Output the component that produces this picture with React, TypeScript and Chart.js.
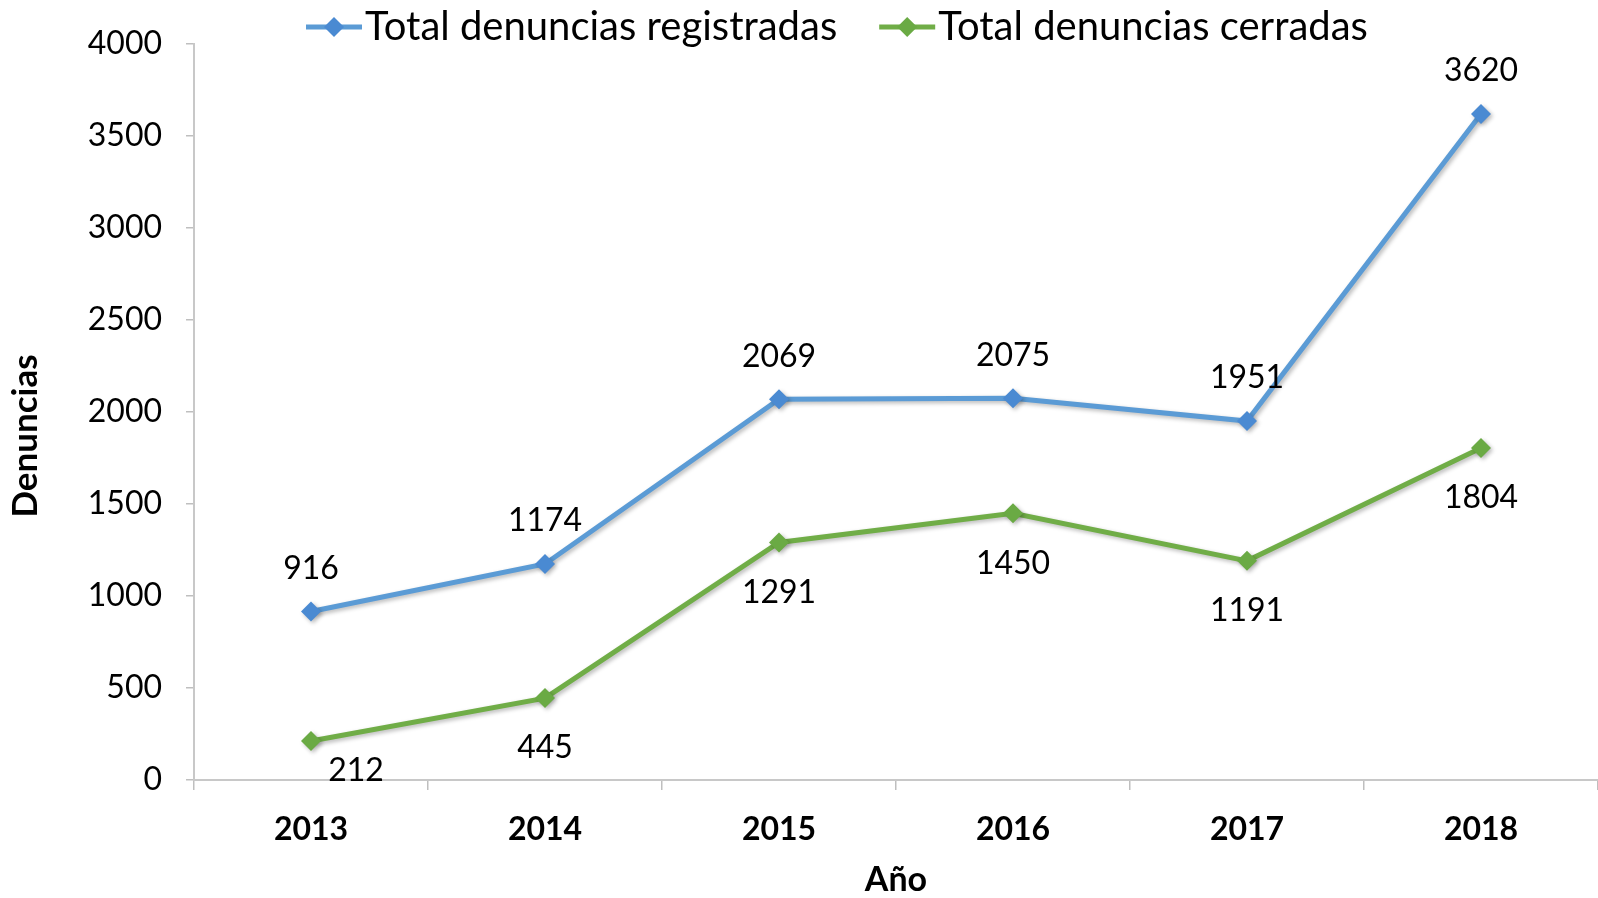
import React, { useEffect, useRef } from 'react';
import { Chart, registerables } from 'chart.js';

Chart.register(...registerables);

const years = ['2013', '2014', '2015', '2016', '2017', '2018'];
const registradas = [916, 1174, 2069, 2075, 1951, 3620];
const cerradas = [212, 445, 1291, 1450, 1191, 1804];
const seriesNames = ['Total denuncias registradas', 'Total denuncias cerradas'];
const yMin = 0;
const yMax = 4000;
const yStep = 500;
const xTitle = 'Año';
const yTitle = 'Denuncias';

const FONT = 'Lato, "Open Sans", sans-serif';
const LINE_COLORS = ['#5B9BD5', '#70AD47'];
const MARKER_COLORS = ['#4A8AD2', '#6AAA44'];
const LABEL_SIDE = ['above', 'below'];

const labelPlugin = {
  id: 'pointLabels',
  afterDatasetsDraw(chart: any) {
    const ctx = chart.ctx;
    const area = chart.chartArea;
    ctx.save();
    ctx.font = `32px ${FONT}`;
    ctx.fillStyle = '#000000';
    ctx.textAlign = 'center';
    ctx.textBaseline = 'middle';
    chart.data.datasets.forEach((ds: any, di: number) => {
      const meta = chart.getDatasetMeta(di);
      const above = LABEL_SIDE[di] === 'above';
      meta.data.forEach((pt: any, i: number) => {
        const v = ds.data[i];
        let x = pt.x;
        let y = above ? pt.y - 43 : pt.y + 50;
        if (!above && y + 12 > area.bottom) {
          y = pt.y + 30;
          x = pt.x + 45;
        }
        ctx.fillText(String(v), x, y);
      });
    });
    ctx.restore();
  },
};

const shadowPlugin = {
  id: 'lineShadow',
  beforeDatasetDraw(chart: any) {
    const ctx = chart.ctx;
    ctx.save();
    ctx.shadowColor = 'rgba(0,0,0,0.28)';
    ctx.shadowBlur = 4;
    ctx.shadowOffsetX = 2;
    ctx.shadowOffsetY = 2;
  },
  afterDatasetDraw(chart: any) {
    chart.ctx.restore();
  },
};

const legendPlugin = {
  id: 'customLegend',
  afterDraw(chart: any) {
    const ctx = chart.ctx;
    ctx.save();
    ctx.font = `40px ${FONT}`;
    ctx.textBaseline = 'middle';
    ctx.textAlign = 'left';
    let x = 306;
    const y = 27;
    seriesNames.forEach((name, i) => {
      ctx.strokeStyle = LINE_COLORS[i];
      ctx.lineWidth = 5;
      ctx.beginPath();
      ctx.moveTo(x, y);
      ctx.lineTo(x + 56, y);
      ctx.stroke();
      const cx = x + 28;
      const r = 10;
      ctx.fillStyle = MARKER_COLORS[i];
      ctx.beginPath();
      ctx.moveTo(cx, y - r);
      ctx.lineTo(cx + r, y);
      ctx.lineTo(cx, y + r);
      ctx.lineTo(cx - r, y);
      ctx.closePath();
      ctx.fill();
      ctx.fillStyle = '#000000';
      ctx.fillText(name, x + 59, y);
      const w = ctx.measureText(name).width;
      x += 59 + w + 42;
    });
    ctx.restore();
  },
};

const yTitlePlugin = {
  id: 'yTitle',
  afterDraw(chart: any) {
    const ctx = chart.ctx;
    const area = chart.chartArea;
    ctx.save();
    ctx.font = `bold 35px ${FONT}`;
    ctx.fillStyle = '#000000';
    ctx.textAlign = 'center';
    ctx.textBaseline = 'middle';
    ctx.translate(26, (area.top + area.bottom) / 2 + 24);
    ctx.rotate(-Math.PI / 2);
    ctx.fillText(yTitle, 0, 0);
    ctx.restore();
  },
};

export default function App() {
  const ref = useRef<HTMLCanvasElement | null>(null);
  useEffect(() => {
    if (!ref.current) return;
    const chart = new Chart(ref.current, {
      type: 'line',
      data: {
        labels: years,
        datasets: [
          {
            label: seriesNames[0],
            data: registradas,
            borderColor: LINE_COLORS[0],
            backgroundColor: MARKER_COLORS[0],
            pointBackgroundColor: MARKER_COLORS[0],
            pointBorderColor: MARKER_COLORS[0],
            borderWidth: 5,
            pointStyle: 'rectRot',
            pointRadius: 10,
            pointBorderWidth: 0,
            tension: 0,
          },
          {
            label: seriesNames[1],
            data: cerradas,
            borderColor: LINE_COLORS[1],
            backgroundColor: MARKER_COLORS[1],
            pointBackgroundColor: MARKER_COLORS[1],
            pointBorderColor: MARKER_COLORS[1],
            borderWidth: 5,
            pointStyle: 'rectRot',
            pointRadius: 10,
            pointBorderWidth: 0,
            tension: 0,
          },
        ],
      },
      options: {
        responsive: false,
        animation: false,
        devicePixelRatio: 1,
        layout: { autoPadding: false, padding: { top: 44, left: 0, right: 0, bottom: 0 } },
        plugins: {
          legend: { display: false },
          tooltip: { enabled: false },
        },
        scales: {
          x: {
            type: 'category',
            offset: true,
            afterFit: (s: any) => { s.height = 118; },
            grid: {
              offset: true,
              drawOnChartArea: false,
              drawTicks: true,
              tickLength: 10,
              color: '#BFBFBF',
              lineWidth: 1.5,
            },
            border: { display: true, color: '#C8C8C8', width: 2 },
            ticks: {
              font: { family: FONT, size: 32, weight: 'bold' },
              color: '#000000',
              padding: 20,
              maxRotation: 0,
            },
            title: {
              display: true,
              text: xTitle,
              font: { family: FONT, size: 34, weight: 'bold' },
              color: '#000000',
              padding: { top: 0, bottom: -2 },
            },
          },
          y: {
            min: yMin,
            max: yMax,
            afterFit: (s: any) => { s.width = 194; },
            grid: {
              drawOnChartArea: false,
              drawTicks: true,
              tickLength: 8,
              color: '#BFBFBF',
              lineWidth: 1.5,
            },
            border: { display: true, color: '#C8C8C8', width: 2 },
            ticks: {
              stepSize: yStep,
              font: { family: FONT, size: 32 },
              color: '#000000',
              padding: 24,
              callback: (v: any) => String(v),
            },
            title: { display: false },
          },
        },
      },
      plugins: [shadowPlugin, labelPlugin, legendPlugin, yTitlePlugin],
    } as any);
    return () => chart.destroy();
  }, []);
  return (
    <div style={{ position: 'fixed', left: 0, top: 0, width: 1598, height: 898, background: '#ffffff' }}>
      <canvas ref={ref} width={1598} height={898} style={{ display: 'block', width: 1598, height: 898 }} />
    </div>
  );
}
